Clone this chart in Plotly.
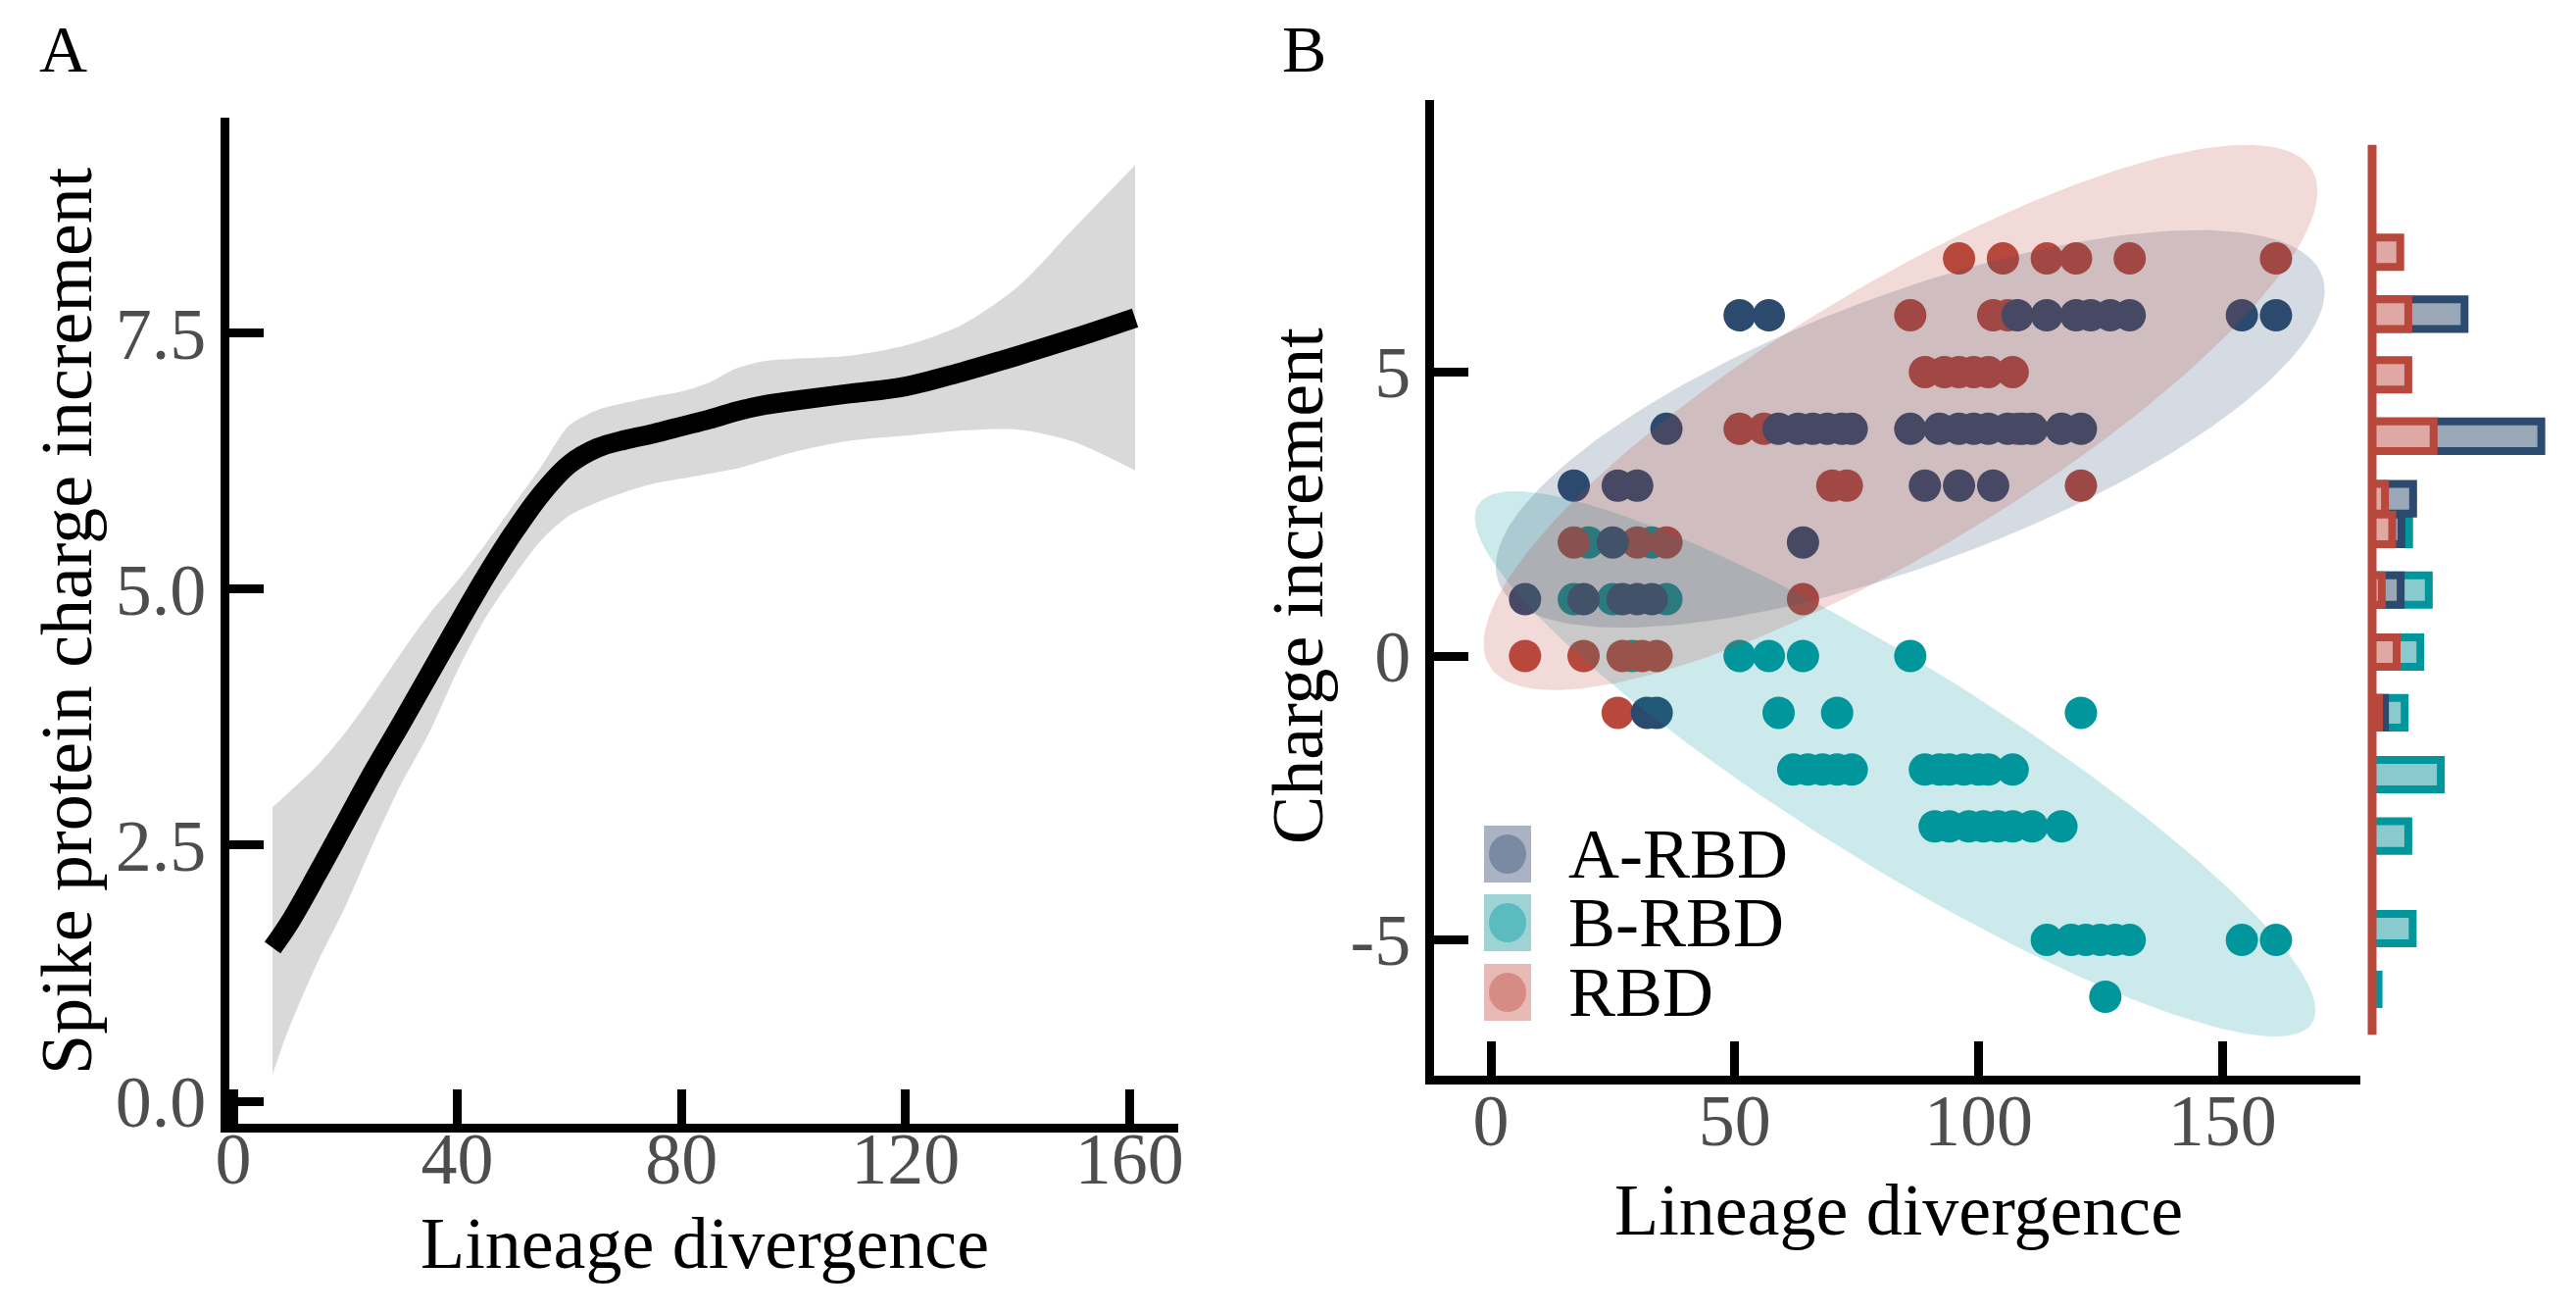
import numpy as np
import plotly.graph_objects as go

# ---- Panel A: smoothed spike charge increment vs lineage divergence ----
FIT_X  = [7, 10, 15, 20, 25, 30, 35, 40, 45, 50, 55, 60, 65, 70, 75, 80, 85, 90,
          95, 100, 110, 120, 130, 140, 150, 161]
FIT_Y  = [1.50, 1.74, 2.22, 2.72, 3.22, 3.69, 4.17, 4.65, 5.12, 5.55, 5.93, 6.22,
          6.38, 6.46, 6.52, 6.59, 6.66, 6.74, 6.80, 6.84, 6.91, 6.98, 7.12, 7.28,
          7.45, 7.65]
FIT_HI = [2.87, 3.02, 3.28, 3.60, 3.98, 4.38, 4.76, 5.08, 5.44, 5.82, 6.20, 6.60,
          6.75, 6.82, 6.88, 6.93, 7.02, 7.16, 7.23, 7.25, 7.28, 7.38, 7.58, 7.95,
          8.52, 9.14]
FIT_LO = [0.26, 0.72, 1.35, 1.90, 2.52, 3.10, 3.60, 4.20, 4.72, 5.12, 5.48, 5.72,
          5.85, 5.95, 6.03, 6.08, 6.13, 6.18, 6.26, 6.34, 6.45, 6.50, 6.55, 6.56,
          6.44, 6.16]

# ---- Panel B: charge increment per lineage ----
A_RBD_X = [51, 57, 108, 114, 120, 123, 127, 131, 154, 161,
           36, 59, 63, 66, 69, 72, 74, 86, 92, 96, 99, 102, 106, 109, 111, 117, 121,
           17, 26, 30, 89, 96, 103,
           25, 64,
           7, 19, 27, 30, 33,
           32, 34]
A_RBD_Y = [6] * 10 + [4] * 17 + [3] * 6 + [2] * 2 + [1] * 5 + [-1] * 2

RBD_X = [96, 105, 114, 120, 131, 161,
         86, 103, 106,
         89, 93, 96, 99, 102, 107,
         51, 56, 108,
         70, 73, 121,
         17, 30, 36,
         64,
         7, 19, 27, 31, 34,
         26]
RBD_Y = [7] * 6 + [6] * 3 + [5] * 6 + [4] * 3 + [3] * 3 + [2] * 3 + [1] + [0] * 5 + [-1]

B_RBD_X = [20, 33,
           17, 25, 36,
           29, 51, 57, 64, 86,
           59, 71, 121,
           62, 65, 68, 71, 74, 89, 92, 94, 97, 100, 102, 107,
           91, 94, 98, 101, 104, 107, 111, 117,
           114, 119, 122, 125, 128, 131, 154, 161,
           126]
B_RBD_Y = [2] * 2 + [1] * 3 + [0] * 5 + [-1] * 3 + [-2] * 12 + [-3] * 8 + [-5] * 8 + [-6]

# 95% ellipses: centre, half extents and x-y correlation
ELL_GROUPS = ["B-RBD", "A-RBD", "RBD"]
ELL_CX = [82.9, 86.0, 84.0]
ELL_CY = [-1.9, 4.0, 4.2]
ELL_HX = [86.2, 85.0, 85.5]
ELL_HY = [4.8, 3.5, 4.8]
ELL_R  = [-0.904, 0.694, 0.830]

# marginal histogram of charge increment (bar centre, count)
HIST_RBD_Y  = [7.11, 6.02, 4.95, 3.87, 2.77, 2.23, 1.16, 0.07, -1.00]
HIST_RBD_N  = [7.0, 9.0, 9.0, 15.3, 3.2, 5.0, 2.4, 6.1, 1.7]
HIST_ARBD_Y = [6.02, 3.87, 2.77, 2.23, 1.16, -1.00]
HIST_ARBD_N = [23.0, 42.1, 10.2, 7.3, 7.1, 3.2]
HIST_BRBD_Y = [2.23, 1.16, 0.07, -1.00, -2.09, -3.17, -4.80, -5.87]
HIST_BRBD_N = [9.2, 14.1, 12.0, 8.1, 17.1, 9.0, 10.1, 1.6]
HIST_SPAN   = [-6.67, 9.0]

# ---- styling ----
W, H = 2628, 1338
SERIF = "Liberation Serif, Times New Roman, serif"
NAVY, TEAL, RED = "#2b4a6e", "#01969c", "#b8483c"
FILL = {"A-RBD": "rgba(43,74,110,0.2)", "B-RBD": "rgba(1,150,156,0.2)",
        "RBD": "rgba(184,72,60,0.2)"}
HIST_FILL = {"A-RBD": "#9aa7b7", "B-RBD": "#88cacd", "RBD": "#e0a8a4"}


def px_x(p):
    return p / W


def px_y(p):
    return 1 - p / H


fig = go.Figure()

# panel A: confidence band (lower edge, then upper edge filled down to it) and fit
fig.add_trace(go.Scatter(
    x=FIT_X, y=FIT_LO, mode="lines", line=dict(width=0, shape="spline", smoothing=0.8),
    xaxis="x", yaxis="y", showlegend=False))
fig.add_trace(go.Scatter(
    x=FIT_X, y=FIT_HI, mode="lines", fill="tonexty", fillcolor="#d9d9d9",
    line=dict(width=0, shape="spline", smoothing=0.8),
    xaxis="x", yaxis="y", showlegend=False))
fig.add_trace(go.Scatter(
    x=FIT_X, y=FIT_Y, mode="lines", line=dict(color="black", width=20, shape="spline"),
    xaxis="x", yaxis="y", showlegend=False))

# panel B points
for xs, ys, col in [(B_RBD_X, B_RBD_Y, TEAL), (RBD_X, RBD_Y, RED), (A_RBD_X, A_RBD_Y, NAVY)]:
    fig.add_trace(go.Scatter(
        x=xs, y=ys, mode="markers", marker=dict(size=33, color=col, line=dict(width=0)),
        xaxis="x2", yaxis="y2", showlegend=False))

# panel B ellipses
t = np.linspace(0, 2 * np.pi, 200)
for g, cx, cy, hx, hy, r in zip(ELL_GROUPS, ELL_CX, ELL_CY, ELL_HX, ELL_HY, ELL_R):
    ex = cx + hx * np.cos(t)
    ey = cy + hy * (r * np.cos(t) + np.sqrt(1 - r * r) * np.sin(t))
    fig.add_trace(go.Scatter(
        x=ex, y=ey, mode="lines", fill="toself", fillcolor=FILL[g],
        line=dict(width=0), xaxis="x2", yaxis="y2", showlegend=False))

# marginal histogram
for ys, ns, col, g in [(HIST_BRBD_Y, HIST_BRBD_N, TEAL, "B-RBD"),
                       (HIST_ARBD_Y, HIST_ARBD_N, NAVY, "A-RBD"),
                       (HIST_RBD_Y, HIST_RBD_N, RED, "RBD")]:
    fig.add_trace(go.Bar(
        x=ns, y=ys, orientation="h", width=0.52,
        marker=dict(color=HIST_FILL[g], line=dict(color=col, width=8)),
        xaxis="x3", yaxis="y3", showlegend=False))
fig.add_trace(go.Scatter(
    x=[0, 0], y=HIST_SPAN, mode="lines", line=dict(color=RED, width=9),
    xaxis="x3", yaxis="y3", showlegend=False))

axis_common = dict(
    showline=True, linecolor="black", linewidth=9, ticks="inside", ticklen=35,
    tickwidth=9, tickcolor="black", showgrid=False, zeroline=False, automargin=False,
    tickfont=dict(family=SERIF, size=74, color="#4d4d4d"))

fig.update_layout(
    width=W, height=H, margin=dict(l=0, r=0, t=0, b=0),
    paper_bgcolor="white", plot_bgcolor="white", barmode="overlay",
    xaxis=dict(domain=[px_x(234), px_x(1202)], range=[-0.7, 168.7],
               tickvals=[0, 40, 80, 120, 160], anchor="y", ticklabelstandoff=-37,
               **axis_common),
    yaxis=dict(domain=[px_y(1146), px_y(119.5)], range=[-0.22, 9.61],
               tickvals=[0, 2.5, 5, 7.5], ticktext=["0.0", "2.5", "5.0", "7.5"],
               anchor="x", **axis_common),
    xaxis2=dict(domain=[px_x(1463), px_x(2408)], range=[-11.66, 178.3],
                tickvals=[0, 50, 100, 150], anchor="y2", ticklabelstandoff=-27,
                **axis_common),
    yaxis2=dict(domain=[px_y(1097), px_y(102)], range=[-7.39, 9.79],
                tickvals=[-5, 0, 5], ticktext=["-5", "0", "5"], anchor="x2", **axis_common),
    xaxis3=dict(domain=[px_x(2410), 1.0], range=[-10 / 4.1, 208 / 4.1],
                visible=False, anchor="y3"),
    yaxis3=dict(domain=[px_y(1097), px_y(102)], range=[-7.39, 9.79],
                visible=False, anchor="x3"),
)

# axis titles and panel letters
notes = [
    ("Spike protein charge increment", 68, 633, -90, 74),
    ("Lineage divergence", 719, 1268, 0, 74),
    ("Charge increment", 1324, 598, -90, 74),
    ("Lineage divergence", 1937, 1234, 0, 74),
    ("A", 64, 50, 0, 68),
    ("B", 1330, 50, 0, 68),
]
for txt, x, y, ang, size in notes:
    fig.add_annotation(text=txt, x=px_x(x), y=px_y(y), xref="paper", yref="paper",
                       showarrow=False, textangle=ang, xanchor="center", yanchor="middle",
                       font=dict(family=SERIF, size=size, color="black"))

# legend drawn by hand: light square key with a circle inside
LEGEND = [("A-RBD", "#a9b3c3", "#7b89a2", 871),
          ("B-RBD", "#9dd3d5", "#5cbbbe", 941),
          ("RBD", "#e7bab6", "#d68c85", 1012)]
for name, sq, dot, cy in LEGEND:
    fig.add_shape(type="rect", xref="paper", yref="paper",
                  x0=px_x(1514), x1=px_x(1562), y0=px_y(cy + 29), y1=px_y(cy - 29),
                  fillcolor=sq, line=dict(width=0))
    fig.add_shape(type="circle", xref="paper", yref="paper",
                  x0=px_x(1519), x1=px_x(1557), y0=px_y(cy + 20), y1=px_y(cy - 20),
                  fillcolor=dot, line=dict(width=0))
    fig.add_annotation(text=name, x=px_x(1598), y=px_y(cy), xref="paper", yref="paper",
                       showarrow=False, xanchor="left", yanchor="middle", height=64,
                       valign="middle", font=dict(family=SERIF, size=72, color="black"))

fig.write_html("out.html", config={"displayModeBar": False},
               post_script="document.body.style.margin='0px';")
